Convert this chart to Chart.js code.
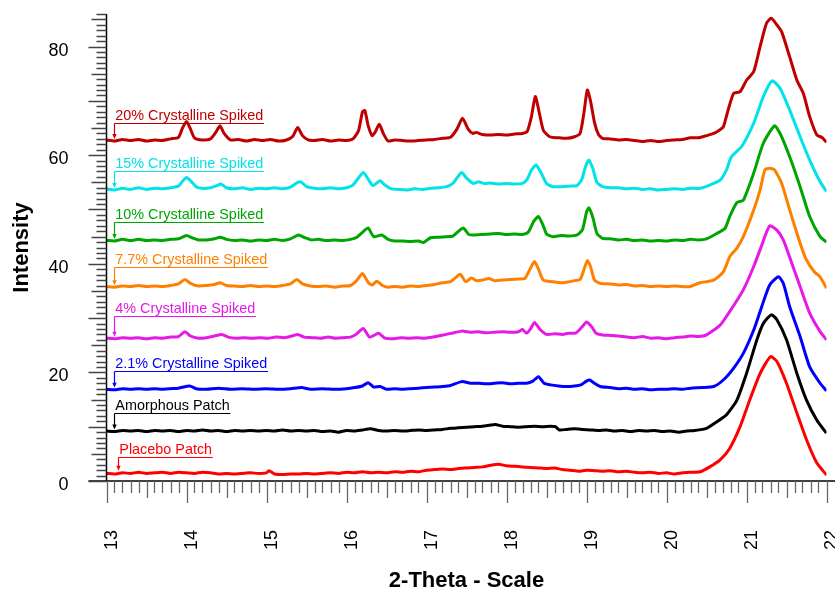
<!DOCTYPE html>
<html><head><meta charset="utf-8">
<script src="https://cdn.jsdelivr.net/npm/chart.js@4"></script>
<style>html,body{margin:0;padding:0;background:#fff}#wrap{width:835px;height:594px}</style>
</head><body><div id="wrap"><canvas id="c" width="835" height="594"></canvas></div>
<script>
const FONT = '"Liberation Sans", Arial, Helvetica, sans-serif';

const seriesNames = ['Placebo Patch','Amorphous Patch','2.1% Crystalline Spiked','4% Crystalline Spiked','7.7% Crystalline Spiked','10% Crystalline Spiked','15% Crystalline Spiked','20% Crystalline Spiked'];
const seriesColors = ['#ff0000','#000000','#0000ff','#e619e6','#ff8000','#00a600','#00e3e8','#c00000'];

const xTicks = [13,14,15,16,17,18,19,20,21,22];
const yTicks = [0,20,40,60,80];

// label underline level (intensity units) and anchor 2-theta for each series annotation
const labelLineY = [4.35,12.6,20.3,30.4,39.5,47.75,57.0,66.0];
const labelAnchorX = [13.15,13.1,13.1,13.1,13.1,13.1,13.1,13.1];

const xPlacebo = [13.0,13.1,13.2,13.3,13.4,13.5,13.6,13.7,13.8,13.9,14.0,14.1,14.2,14.3,14.4,14.5,14.6,14.7,14.8,14.9,15.0,15.03,15.1,15.2,15.3,15.4,15.5,15.6,15.7,15.8,15.9,16.0,16.1,16.2,16.3,16.4,16.5,16.6,16.7,16.8,16.9,17.0,17.1,17.2,17.3,17.4,17.5,17.6,17.7,17.8,17.9,18.0,18.1,18.2,18.3,18.4,18.5,18.6,18.7,18.8,18.9,19.0,19.1,19.2,19.3,19.4,19.5,19.6,19.7,19.8,19.9,20.0,20.1,20.2,20.3,20.42,20.54,20.67,20.79,20.92,21.04,21.17,21.3,21.38,21.5,21.63,21.75,21.88,22.0];
const yPlacebo = [1.4,1.3,1.5,1.4,1.6,1.4,1.5,1.6,1.4,1.6,1.5,1.4,1.6,1.5,1.3,1.4,1.3,1.4,1.5,1.4,1.5,1.9,1.3,1.2,1.3,1.3,1.4,1.3,1.4,1.5,1.4,1.6,1.5,1.7,1.5,1.6,1.5,1.7,1.6,1.8,1.7,2.0,2.1,2.2,2.1,2.3,2.4,2.5,2.6,2.9,3.1,2.8,2.7,2.6,2.5,2.4,2.3,2.4,2.1,2.0,1.8,2.0,1.9,1.8,1.9,1.7,1.8,1.6,1.5,1.6,1.4,1.5,1.3,1.5,1.6,1.7,2.6,3.9,6.0,10.0,14.9,19.8,22.9,22.0,18.0,12.5,7.6,3.3,1.1];

const xAmorphous = [13.0,13.1,13.2,13.3,13.4,13.5,13.6,13.7,13.8,13.9,14.0,14.1,14.2,14.3,14.4,14.5,14.6,14.7,14.8,14.9,15.0,15.1,15.2,15.3,15.4,15.5,15.6,15.7,15.8,15.9,16.0,16.1,16.2,16.3,16.4,16.5,16.6,16.7,16.8,16.9,17.0,17.1,17.2,17.3,17.4,17.5,17.6,17.7,17.8,17.86,17.95,18.05,18.15,18.25,18.35,18.45,18.55,18.61,18.66,18.75,18.85,18.95,19.05,19.15,19.25,19.35,19.45,19.55,19.65,19.75,19.85,19.95,20.05,20.15,20.25,20.35,20.5,20.63,20.75,20.88,21.0,21.13,21.21,21.31,21.38,21.5,21.63,21.75,21.88,22.0];
const yAmorphous = [9.2,9.1,9.3,9.2,9.3,9.1,9.3,9.2,9.3,9.1,9.3,9.2,9.4,9.2,9.3,9.1,9.3,9.2,9.3,9.2,9.3,9.2,9.4,9.2,9.3,9.2,9.3,9.1,9.2,9.0,9.3,9.2,9.4,9.6,9.3,9.2,9.3,9.2,9.3,9.4,9.3,9.4,9.5,9.7,9.8,9.9,10.0,10.1,10.3,10.4,10.1,10.0,9.9,10.0,10.1,10.0,10.1,10.0,9.4,9.5,9.6,9.5,9.4,9.3,9.4,9.2,9.3,9.1,9.3,9.2,9.3,9.1,9.2,9.0,9.2,9.3,9.7,10.9,12.2,14.9,19.8,26.0,29.0,30.6,29.7,26.0,19.8,14.9,11.2,8.8];

const x2p1 = [13.0,13.1,13.2,13.3,13.4,13.5,13.6,13.7,13.8,13.9,14.04,14.12,14.25,14.4,14.55,14.7,14.85,15.0,15.15,15.3,15.44,15.55,15.7,15.85,16.0,16.1,16.2,16.27,16.34,16.42,16.5,16.6,16.7,16.8,16.9,17.0,17.1,17.2,17.3,17.44,17.55,17.65,17.75,17.85,17.95,18.05,18.15,18.25,18.33,18.4,18.47,18.55,18.65,18.75,18.85,18.93,19.0,19.04,19.1,19.17,19.3,19.4,19.5,19.6,19.7,19.8,19.9,20.0,20.1,20.2,20.3,20.45,20.59,20.71,20.84,20.96,21.09,21.19,21.29,21.4,21.46,21.54,21.67,21.79,21.92,22.0];
const y2p1 = [16.9,16.8,17.0,16.9,17.0,16.9,17.0,16.9,17.0,17.1,17.5,17.0,16.9,17.1,16.9,17.0,16.9,17.0,16.9,17.0,17.2,16.9,17.0,16.9,17.0,17.2,17.5,18.1,17.3,17.4,16.9,17.0,16.9,17.0,17.1,17.2,17.3,17.4,17.6,18.3,18.0,18.0,17.9,18.0,18.1,17.9,18.0,18.0,18.4,19.2,18.0,17.7,17.5,17.4,17.5,17.7,18.4,18.6,18.0,17.4,17.2,17.0,17.1,16.9,17.0,16.8,16.9,16.9,17.0,16.9,17.1,17.2,17.4,18.6,20.8,23.5,27.8,32.1,36.1,37.6,36.4,32.1,26.6,21.0,18.0,16.6];

const x4 = [13.0,13.1,13.2,13.3,13.4,13.5,13.6,13.7,13.8,13.9,13.98,14.05,14.15,14.25,14.35,14.44,14.52,14.62,14.72,14.82,14.92,15.02,15.12,15.22,15.32,15.39,15.47,15.57,15.67,15.77,15.87,15.97,16.05,16.12,16.21,16.29,16.4,16.48,16.58,16.68,16.78,16.88,16.98,17.08,17.18,17.31,17.44,17.55,17.65,17.75,17.85,17.95,18.05,18.15,18.2,18.25,18.3,18.35,18.42,18.5,18.6,18.7,18.77,18.87,18.94,19.0,19.06,19.12,19.2,19.3,19.4,19.5,19.6,19.7,19.8,19.9,20.0,20.1,20.2,20.3,20.4,20.5,20.67,20.79,20.96,21.09,21.19,21.29,21.38,21.46,21.54,21.67,21.79,21.92,22.0];
const y4 = [26.3,26.2,26.4,26.3,26.4,26.2,26.4,26.3,26.5,26.6,27.5,26.7,26.3,26.4,26.7,27.0,26.5,26.3,26.4,26.3,26.4,26.3,26.5,26.4,26.7,27.0,26.5,26.4,26.3,26.5,26.3,26.4,26.5,27.0,28.1,26.5,27.2,26.3,26.2,26.4,26.3,26.4,26.3,26.5,26.8,27.2,27.6,27.4,27.5,27.3,27.4,27.5,27.4,27.5,27.9,27.2,28.0,29.2,27.9,27.0,27.1,27.0,27.2,27.3,28.3,29.3,28.5,27.2,26.9,26.8,26.7,26.5,26.4,26.6,26.3,26.4,26.2,26.4,26.5,26.7,26.6,26.9,28.7,31.2,35.2,39.5,43.4,47.0,46.2,44.4,41.2,35.8,30.9,27.5,26.0];

const x7p7 = [13.0,13.1,13.2,13.3,13.4,13.5,13.6,13.7,13.8,13.9,13.98,14.05,14.15,14.25,14.35,14.42,14.5,14.6,14.7,14.8,14.9,15.0,15.1,15.2,15.3,15.38,15.45,15.55,15.65,15.75,15.85,15.95,16.05,16.12,16.2,16.27,16.32,16.38,16.45,16.52,16.6,16.7,16.8,16.9,17.0,17.1,17.2,17.3,17.36,17.42,17.49,17.56,17.62,17.7,17.78,17.85,17.95,18.05,18.15,18.23,18.29,18.35,18.4,18.46,18.58,18.68,18.75,18.85,18.92,18.97,19.01,19.05,19.1,19.17,19.3,19.4,19.5,19.6,19.7,19.8,19.9,20.0,20.1,20.2,20.29,20.42,20.59,20.71,20.79,20.88,20.96,21.09,21.17,21.23,21.29,21.35,21.44,21.54,21.67,21.75,21.85,21.92,22.0];
const y7p7 = [35.8,35.7,35.9,35.8,36.0,35.8,35.9,35.8,36.0,36.3,37.1,36.4,35.9,36.0,36.2,36.5,36.0,35.9,35.8,36.0,35.8,35.9,35.8,36.0,36.3,37.1,36.3,35.9,35.8,35.9,35.7,35.9,36.0,36.8,38.2,36.6,36.1,36.8,36.0,35.7,35.8,35.7,35.9,35.8,36.0,36.2,36.5,36.7,37.4,38.1,36.7,37.4,36.9,37.0,37.3,36.9,37.0,37.1,37.2,37.3,38.9,40.4,39.0,37.0,36.7,36.5,36.6,36.9,37.1,39.0,40.6,39.5,37.0,36.4,36.3,36.1,36.2,35.9,36.0,35.8,35.9,35.8,35.9,35.8,35.8,36.5,37.0,38.5,41.3,42.9,45.0,49.9,53.6,57.3,57.6,57.3,54.8,49.9,43.8,40.7,38.5,37.6,35.5];

const x10 = [13.0,13.1,13.2,13.3,13.4,13.5,13.6,13.7,13.8,13.9,14.0,14.07,14.15,14.25,14.35,14.42,14.5,14.6,14.7,14.8,14.9,15.0,15.1,15.2,15.3,15.4,15.48,15.56,15.65,15.75,15.85,15.95,16.05,16.13,16.2,16.27,16.34,16.44,16.52,16.6,16.7,16.8,16.9,16.96,17.05,17.15,17.25,17.33,17.4,17.46,17.53,17.6,17.7,17.8,17.9,18.0,18.1,18.2,18.27,18.34,18.4,18.46,18.5,18.58,18.68,18.78,18.88,18.95,19.0,19.03,19.08,19.13,19.2,19.3,19.4,19.5,19.6,19.7,19.8,19.9,20.0,20.1,20.2,20.3,20.4,20.5,20.63,20.73,20.79,20.88,20.96,21.09,21.21,21.35,21.42,21.54,21.67,21.79,21.92,22.0];
const y10 = [44.3,44.2,44.5,44.3,44.5,44.3,44.4,44.3,44.5,44.6,45.2,44.8,44.4,44.4,44.6,44.9,44.5,44.3,44.4,44.2,44.4,44.3,44.5,44.3,44.6,45.3,44.8,44.4,44.5,44.3,44.4,44.3,44.5,44.9,45.8,46.6,45.0,45.3,44.5,44.2,44.2,44.1,44.2,43.9,44.8,44.9,45.0,45.1,46.0,46.6,45.4,45.3,45.4,45.5,45.6,45.4,45.5,45.4,45.8,47.8,48.7,47.0,45.5,45.0,45.2,45.1,45.3,46.3,49.5,50.3,48.5,45.6,44.7,44.6,44.4,44.5,44.3,44.4,44.2,44.3,44.2,44.4,44.3,44.5,44.4,44.6,45.6,46.5,48.7,51.3,51.7,56.7,62.2,65.4,64.0,59.7,54.2,48.7,45.0,44.0];

const x15 = [13.0,13.1,13.2,13.3,13.4,13.5,13.6,13.7,13.8,13.9,13.95,14.0,14.05,14.12,14.2,14.3,14.38,14.43,14.5,14.6,14.7,14.8,14.9,15.0,15.1,15.2,15.3,15.38,15.43,15.5,15.6,15.7,15.8,15.9,16.0,16.08,16.15,16.21,16.27,16.33,16.42,16.48,16.56,16.65,16.75,16.85,16.95,17.05,17.15,17.25,17.33,17.39,17.44,17.5,17.58,17.65,17.72,17.8,17.9,18.0,18.1,18.2,18.26,18.31,18.37,18.43,18.5,18.58,18.68,18.78,18.88,18.94,18.99,19.03,19.08,19.13,19.2,19.3,19.4,19.5,19.6,19.7,19.8,19.9,20.0,20.1,20.2,20.3,20.42,20.54,20.67,20.75,20.81,20.94,21.09,21.21,21.32,21.42,21.54,21.67,21.79,21.92,22.0];
const y15 = [53.8,53.6,53.9,53.7,54.0,53.7,53.9,53.8,54.0,54.3,55.2,55.9,55.3,54.2,53.9,54.0,54.4,54.7,54.0,53.8,54.0,53.7,53.9,53.8,54.0,53.8,54.1,54.9,55.1,54.2,53.9,53.8,54.0,53.8,54.0,54.5,55.8,56.8,55.6,54.4,55.3,54.5,53.8,53.7,53.6,53.8,53.7,53.9,54.0,54.2,54.8,56.0,56.8,55.8,54.8,55.1,54.8,54.9,54.7,54.8,54.7,54.8,55.6,57.2,58.2,56.8,54.8,54.2,54.2,54.3,54.4,55.5,58.0,59.1,57.5,55.0,54.2,54.0,54.0,53.8,53.9,53.7,53.8,53.6,53.7,53.8,53.7,53.9,53.9,54.5,55.4,57.3,59.7,61.6,65.9,70.8,73.7,72.3,68.3,63.4,59.1,55.1,53.3];

const x20 = [13.0,13.1,13.2,13.3,13.4,13.5,13.6,13.7,13.8,13.9,13.95,14.0,14.05,14.1,14.2,14.3,14.37,14.42,14.47,14.55,14.65,14.75,14.85,14.95,15.05,15.15,15.25,15.33,15.39,15.45,15.52,15.6,15.7,15.8,15.9,16.0,16.08,16.15,16.2,16.23,16.27,16.32,16.36,16.41,16.46,16.52,16.6,16.7,16.8,16.9,17.0,17.1,17.2,17.3,17.38,17.45,17.52,17.58,17.62,17.7,17.8,17.9,18.0,18.1,18.2,18.26,18.31,18.36,18.4,18.46,18.54,18.65,18.75,18.85,18.92,18.97,19.01,19.05,19.1,19.15,19.2,19.3,19.4,19.5,19.6,19.7,19.8,19.9,20.0,20.1,20.2,20.3,20.4,20.5,20.59,20.66,20.71,20.77,20.84,20.92,21.0,21.09,21.17,21.25,21.31,21.38,21.44,21.54,21.63,21.71,21.79,21.88,21.94,22.0];
const y20 = [62.8,62.6,62.9,62.7,62.9,62.6,62.8,62.7,63.0,63.3,65.0,66.2,64.8,63.2,62.8,63.0,64.3,65.4,64.0,62.8,62.9,62.6,62.9,62.7,62.9,62.6,62.8,63.5,65.1,63.6,62.8,62.7,62.9,62.6,62.8,62.7,63.0,64.5,68.0,68.2,65.5,63.6,64.3,65.7,64.0,62.6,62.8,62.7,62.6,62.7,62.8,62.9,63.1,63.3,64.8,66.8,64.8,64.0,64.2,63.8,63.7,63.8,63.7,63.9,64.0,64.4,67.0,70.8,68.5,64.6,63.4,63.2,63.1,63.4,64.0,68.0,72.0,70.0,66.0,63.8,63.1,63.0,62.8,62.9,62.7,62.5,62.7,62.5,62.7,62.8,62.9,63.2,63.2,63.6,64.0,64.6,65.2,68.3,71.4,71.7,73.8,75.4,80.0,84.3,85.2,84.0,82.7,78.1,73.8,71.4,67.1,63.7,63.3,62.4];

const seriesX = [xPlacebo,xAmorphous,x2p1,x4,x7p7,x10,x15,x20];
const seriesY = [yPlacebo,yAmorphous,y2p1,y4,y7p7,y10,y15,y20];

const axisPlugin = {
  id: 'axisDecor',
  afterDraw(chart) {
    const {ctx, chartArea: ca, scales: {x: xs, y: ys}} = chart;
    ctx.save();
    ctx.strokeStyle = '#000';
    ctx.lineWidth = 1.5;
    ctx.beginPath();
    ctx.moveTo(ca.left, ys.getPixelForValue(ys.max));
    ctx.lineTo(ca.left, ca.bottom);
    ctx.moveTo(ca.left - 18, ca.bottom);
    ctx.lineTo(chart.width, ca.bottom);
    ctx.stroke();
    ctx.strokeStyle = '#444';
    ctx.lineWidth = 1.4;
    ctx.beginPath();
    for (let k = ys.min; k <= ys.max; k++) {
      const p = Math.round(ys.getPixelForValue(k)) + 0.5;
      const len = k % 10 === 0 ? 18 : (k % 5 === 0 ? 15 : 10);
      ctx.moveTo(ca.left - len, p);
      ctx.lineTo(ca.left, p);
    }
    ctx.stroke();
    ctx.strokeStyle = '#666';
    ctx.lineWidth = 1.3;
    ctx.beginPath();
    for (let k = 0; k <= (xs.max - xs.min) * 10; k++) {
      const v = xs.min + k / 10;
      const p = Math.round(xs.getPixelForValue(v)) + 0.5;
      const len = k % 10 === 0 ? 22 : (k % 5 === 0 ? 17 : 12);
      ctx.moveTo(p, ca.bottom);
      ctx.lineTo(p, ca.bottom + len);
    }
    ctx.stroke();
    ctx.fillStyle = '#000';
    ctx.font = '18px ' + FONT;
    ctx.textAlign = 'left';
    ctx.textBaseline = 'middle';
    xs.ticks.forEach(t => {
      const p = xs.getPixelForValue(t.value);
      ctx.save();
      ctx.translate(p + 6, ca.bottom + 69);
      ctx.rotate(-Math.PI / 2);
      ctx.fillText(String(t.value), 0, 0);
      ctx.restore();
    });
    ctx.restore();
  }
};

const annotPlugin = {
  id: 'seriesLabels',
  afterDatasetsDraw(chart) {
    const {ctx, scales: {x: xs, y: ys}} = chart;
    ctx.save();
    ctx.font = '14.4px ' + FONT;
    ctx.textAlign = 'left';
    ctx.textBaseline = 'alphabetic';
    seriesNames.forEach((name, i) => {
      const color = seriesColors[i];
      const ax = xs.getPixelForValue(labelAnchorX[i]);
      const xsArr = seriesX[i];
      let j = 0;
      for (let q = 0; q < xsArr.length; q++) if (Math.abs(xsArr[q] - labelAnchorX[i]) < Math.abs(xsArr[j] - labelAnchorX[i])) j = q;
      const curvePx = ys.getPixelForValue(seriesY[i][j]);
      const lineY = Math.round(ys.getPixelForValue(labelLineY[i])) + 0.5;
      const tip = curvePx - 2;
      const tw = ctx.measureText(name).width;
      ctx.fillStyle = color;
      ctx.strokeStyle = color;
      ctx.lineWidth = 1.2;
      ctx.fillText(name, ax + 0.8, lineY - 4);
      ctx.beginPath();
      ctx.moveTo(ax, lineY);
      ctx.lineTo(ax + 1.5 + tw, lineY);
      ctx.moveTo(ax, lineY);
      ctx.lineTo(ax, tip - 4);
      ctx.stroke();
      ctx.beginPath();
      ctx.moveTo(ax, tip);
      ctx.lineTo(ax - 2.2, tip - 5);
      ctx.lineTo(ax + 2.2, tip - 5);
      ctx.closePath();
      ctx.fill();
    });
    ctx.restore();
  }
};

const datasets = seriesNames.map((name, i) => ({
  label: name,
  data: seriesX[i].map((x, j) => ({x: x, y: seriesY[i][j]})),
  borderColor: seriesColors[i],
  backgroundColor: seriesColors[i],
  borderWidth: 3,
  pointRadius: 0,
  fill: false,
  tension: 0.2,
  borderJoinStyle: 'round'
}));

new Chart(document.getElementById('c'), {
  type: 'line',
  data: {datasets},
  options: {
    responsive: false,
    animation: false,
    devicePixelRatio: 1,
    layout: {padding: {left: 0, right: 8.5, top: 14, bottom: 0}},
    plugins: {legend: {display: false}, tooltip: {enabled: false}},
    scales: {
      x: {
        type: 'linear', min: 13, max: 22,
        afterBuildTicks: s => { s.ticks = xTicks.map(v => ({value: v})); },
        afterFit: s => { s.height = 113; s.paddingLeft = 0; s.paddingRight = 0; },
        grid: {display: false, drawTicks: false},
        border: {display: false},
        ticks: {display: false},
        title: {display: true, text: '2-Theta - Scale', color: '#000',
          font: {family: FONT, size: 22, weight: 'bold'}, padding: {top: 0, bottom: 0}}
      },
      y: {
        type: 'linear', min: 0, max: 86,
        afterBuildTicks: s => { s.ticks = yTicks.map(v => ({value: v})); },
        afterFit: s => { s.width = 106.5; s.paddingTop = 0; s.paddingBottom = 0; },
        grid: {display: false, drawTicks: false},
        border: {display: false},
        ticks: {color: '#000', font: {family: FONT, size: 18}, padding: 38, labelOffset: 4},
        title: {display: true, text: 'Intensity', color: '#000',
          font: {family: FONT, size: 22, weight: 'bold'}, padding: {top: 9, bottom: 0}}
      }
    }
  },
  plugins: [axisPlugin, annotPlugin]
});
</script>
</body></html>
